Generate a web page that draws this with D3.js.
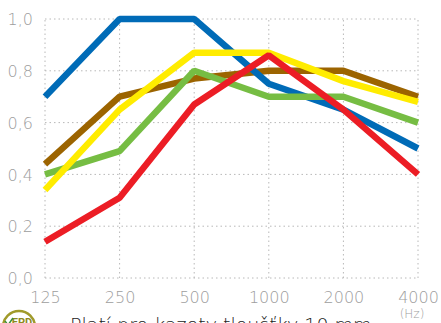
<!DOCTYPE html>
<html>
<head>
<meta charset="utf-8">
<script src="https://cdn.jsdelivr.net/npm/d3@7"></script>
<style>
  html, body { margin: 0; padding: 0; background: #fff; overflow: hidden; }
  svg { display: block; }
  .tick text { font-family: "DejaVu Sans", sans-serif; font-weight: 200; fill: #9d9d9d; }
</style>
</head>
<body>
<div id="chart"></div>
<script>
const freqs = ['125', '250', '500', '1000', '2000', '4000'];
const yTicks = [0, 0.2, 0.4, 0.6, 0.8, 1.0];

const brown = [0.44, 0.70, 0.77, 0.80, 0.80, 0.70];
const blue = [0.70, 1.00, 1.00, 0.75, 0.65, 0.50];
const green = [0.40, 0.49, 0.80, 0.70, 0.70, 0.60];
const yellow = [0.34, 0.65, 0.87, 0.87, 0.76, 0.68];
const red = [0.14, 0.31, 0.67, 0.86, 0.65, 0.40];

const seriesList = [
    {name: 'brown', values: brown, color: '#9c6400'},
    {name: 'blue', values: blue, color: '#006bb7'},
    {name: 'green', values: green, color: '#76bd43'},
    {name: 'yellow', values: yellow, color: '#ffec00'},
    {name: 'red', values: red, color: '#ec1d25'},
];

const width = 441, height = 323;
const margin = {left: 45, right: 23, top: 19, bottom: 45};

const svg = d3.select('#chart').append('svg')
    .attr('width', width)
    .attr('height', height);

const x = d3.scalePoint()
    .domain(freqs)
    .range([margin.left, width - margin.right]);

const y = d3.scaleLinear()
    .domain([0, 1])
    .range([height - margin.bottom, margin.top]);

// grid
const grid = svg.append('g');
grid.selectAll('line.h').data(yTicks).enter().append('line')
    .attr('x1', margin.left).attr('x2', width - margin.right)
    .attr('y1', d => y(d)).attr('y2', d => y(d))
    .attr('stroke', '#b8b8b8').attr('stroke-width', 1)
    .attr('stroke-dasharray', '1.5,3');
grid.selectAll('line.v').data(freqs).enter().append('line')
    .attr('x1', d => x(d)).attr('x2', d => x(d))
    .attr('y1', y(0)).attr('y2', y(1))
    .attr('stroke', '#b8b8b8').attr('stroke-width', 1)
    .attr('stroke-dasharray', '1.5,3');

// axes (labels only)
const yAxis = svg.append('g')
    .attr('transform', `translate(${margin.left - 12},0)`)
    .call(d3.axisLeft(y).tickValues(yTicks).tickSize(0).tickPadding(0)
        .tickFormat(d => d3.format('.1f')(d).replace('.', ',')));
yAxis.select('.domain').remove();
yAxis.selectAll('text').attr('font-size', 16).attr('dy', '0.35em');

const xAxis = svg.append('g')
    .attr('transform', `translate(0,${y(0) + 14})`)
    .call(d3.axisBottom(x).tickSize(0).tickPadding(0));
xAxis.select('.domain').remove();
xAxis.selectAll('text').attr('font-size', 16).attr('dy', '0.71em');

svg.append('text')
    .attr('x', x('4000') - 6)
    .attr('y', 318)
    .attr('text-anchor', 'middle')
    .attr('font-family', '"DejaVu Sans", sans-serif')
    .attr('font-weight', 200)
    .attr('font-size', 12)
    .attr('fill', '#9d9d9d')
    .text('(Hz)');

// lines
const line = d3.line()
    .x((d, i) => x(freqs[i]))
    .y(d => y(d));

svg.append('g').selectAll('path').data(seriesList).enter().append('path')
    .attr('d', d => line(d.values))
    .attr('fill', 'none')
    .attr('stroke', d => d.color)
    .attr('stroke-width', 6.5)
    .attr('stroke-linejoin', 'bevel');

// footer
svg.append('text')
    .attr('x', 70)
    .attr('y', 332)
    .attr('font-family', '"DejaVu Sans", sans-serif')
    .attr('font-weight', 200)
    .attr('font-size', 19)
    .attr('fill', '#222')
    .text('Platí pro kazety tloušťky 10 mm');

const logo = svg.append('g').attr('transform', 'translate(19,327)');
logo.append('circle')
    .attr('r', 16)
    .attr('fill', '#fff')
    .attr('stroke', '#a09a2a')
    .attr('stroke-width', 2.5);
logo.append('text')
    .attr('x', 3).attr('y', -1)
    .attr('text-anchor', 'middle')
    .attr('font-family', 'Roboto, sans-serif')
    .attr('font-weight', 700)
    .attr('font-size', 11)
    .attr('fill', '#8f8a1e')
    .text('EPD');
logo.append('path')
    .attr('d', 'M-14,-6 L-11,-2 L-6,-9')
    .attr('fill', 'none')
    .attr('stroke', '#3a8f3a')
    .attr('stroke-width', 1.5);
</script>
</body>
</html>
